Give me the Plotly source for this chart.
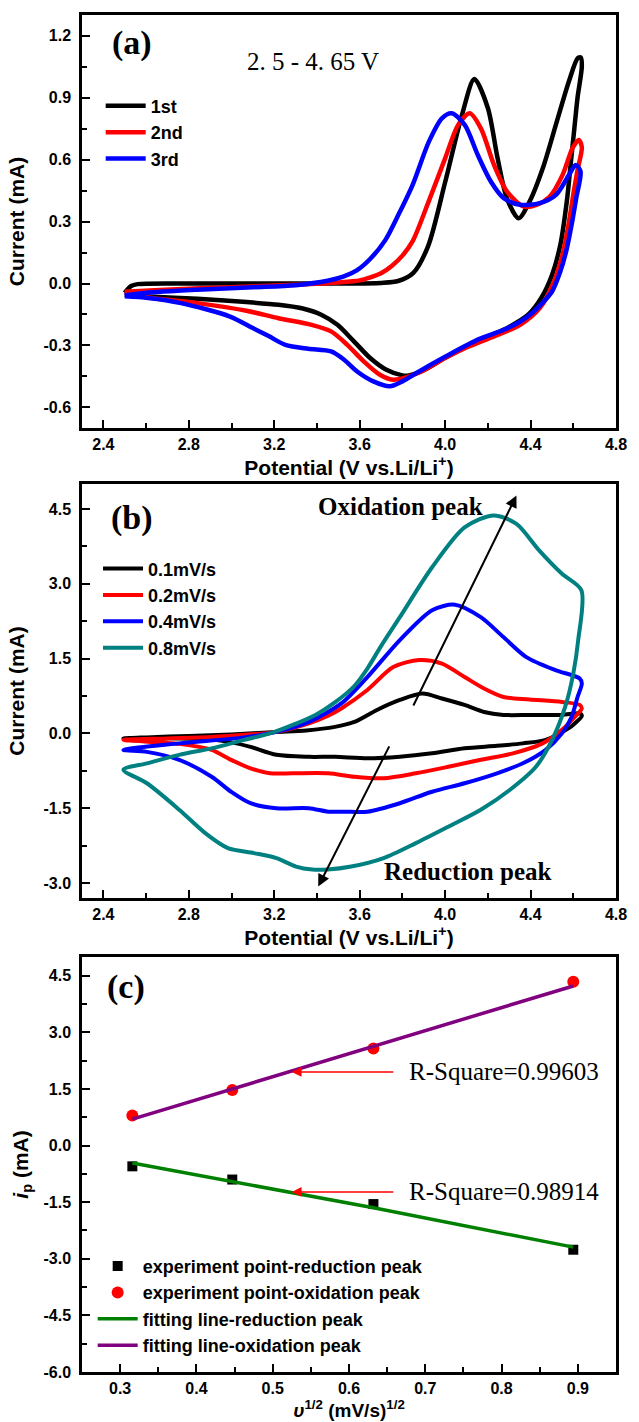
import plotly.graph_objects as go

# ---------------- Panel (a): first three CV cycles ----------------
a_names = ["1st", "2nd", "3rd"]
a_colors = ["#000000", "#ff0000", "#0000ff"]

a_x_1st = [2.50, 2.53, 2.56, 2.8, 3.2, 3.5, 3.7, 3.78, 3.85, 3.92, 4.0, 4.08, 4.137, 4.2, 4.245, 4.29, 4.344,
           4.397, 4.458, 4.519, 4.58, 4.62, 4.635,
           4.64, 4.62, 4.605, 4.59, 4.57, 4.54, 4.50, 4.45, 4.39, 4.3, 4.153, 4.0, 3.9, 3.83, 3.80, 3.725,
           3.649, 3.573, 3.496, 3.42, 3.329, 3.22, 3.07, 2.84, 2.61, 2.50]
a_y_1st = [-0.045, -0.012, -0.003, 0.0, 0.0, 0.0, 0.003, 0.012, 0.05, 0.18, 0.49, 0.82, 0.99, 0.85, 0.61, 0.41, 0.316,
           0.40, 0.56, 0.77, 0.98, 1.09, 1.095,
           1.05, 0.90, 0.75, 0.60, 0.40, 0.19, 0.04, -0.07, -0.15, -0.21, -0.28, -0.36, -0.42, -0.445, -0.445, -0.418,
           -0.361, -0.28, -0.2, -0.151, -0.12, -0.103, -0.09, -0.074, -0.063, -0.055]

a_x_2nd = [2.50, 2.69, 3.0, 3.3, 3.5, 3.6, 3.65, 3.7, 3.75, 3.8, 3.848, 3.924, 4.0, 4.061, 4.115, 4.168, 4.229, 4.29,
           4.367, 4.428, 4.489, 4.55, 4.596, 4.626,
           4.64, 4.62, 4.603, 4.58, 4.55, 4.504, 4.443, 4.351, 4.229, 4.1, 4.0, 3.9, 3.832, 3.756, 3.695, 3.619,
           3.542, 3.466, 3.375, 3.22, 3.07, 2.84, 2.61, 2.50]
a_y_2nd = [-0.04, -0.03, -0.018, -0.006, 0.005, 0.015, 0.03, 0.05, 0.085, 0.135, 0.205, 0.40, 0.606, 0.768, 0.824,
           0.75, 0.574, 0.445, 0.373, 0.381, 0.42, 0.526, 0.655, 0.695,
           0.66, 0.55, 0.45, 0.30, 0.14, -0.006, -0.119, -0.2, -0.256, -0.31, -0.361, -0.42, -0.45, -0.466, -0.442,
           -0.377, -0.297, -0.232, -0.2, -0.168, -0.132, -0.095, -0.068, -0.045]

a_x_3rd = [2.50, 2.6, 2.84, 3.1, 3.3, 3.45, 3.526, 3.588, 3.65, 3.72, 3.78, 3.848, 3.924, 3.985, 4.031, 4.092,
           4.153, 4.214, 4.275, 4.351, 4.443, 4.519, 4.58, 4.611, 4.634,
           4.615, 4.595, 4.57, 4.54, 4.5, 4.45, 4.41, 4.35, 4.275, 4.153, 4.0, 3.878, 3.8, 3.741, 3.664, 3.588,
           3.527, 3.466, 3.359, 3.252, 3.176, 3.1, 2.993, 2.764, 2.61, 2.50]
a_y_3rd = [-0.058, -0.045, -0.03, -0.018, -0.008, 0.013, 0.034, 0.065, 0.12, 0.21, 0.33, 0.478, 0.687, 0.80, 0.824,
           0.768, 0.622, 0.494, 0.413, 0.381, 0.389, 0.429, 0.526, 0.574, 0.542,
           0.42, 0.30, 0.17, 0.06, -0.04, -0.1, -0.14, -0.185, -0.224, -0.272, -0.355, -0.426, -0.474, -0.498,
           -0.474, -0.426, -0.369, -0.329, -0.316, -0.297, -0.256, -0.216, -0.16, -0.095, -0.07, -0.062]

# ---------------- Panel (b): CV at different scan rates ----------------
b_names = ["0.1mV/s", "0.2mV/s", "0.4mV/s", "0.8mV/s"]
b_colors = ["#000000", "#ff0000", "#0000ff", "#008080"]

b_x_01 = [2.494, 2.6, 2.8, 3.0, 3.21, 3.35, 3.484, 3.575, 3.681, 3.788, 3.894, 3.985, 4.091, 4.182, 4.273, 4.395,
          4.547, 4.63,
          4.64, 4.607, 4.577, 4.471, 4.364, 4.243, 4.091, 3.939, 3.788, 3.636, 3.484, 3.362, 3.21, 3.089, 3.0, 2.9,
          2.755, 2.494]
b_y_01 = [-0.10, -0.08, -0.05, -0.02, 0.03, 0.06, 0.13, 0.23, 0.47, 0.67, 0.80, 0.70, 0.57, 0.43, 0.37, 0.37,
          0.37, 0.40,
          0.35, 0.2, 0.1, -0.13, -0.2, -0.25, -0.30, -0.40, -0.47, -0.50, -0.47, -0.47, -0.43, -0.27, -0.18, -0.12,
          -0.10, -0.10]

b_x_02 = [2.494, 2.7, 2.907, 3.21, 3.362, 3.45, 3.514, 3.636, 3.757, 3.878, 3.985, 4.091, 4.182, 4.273, 4.395,
          4.547, 4.63,
          4.64, 4.607, 4.547, 4.456, 4.318, 4.167, 4.015, 3.863, 3.712, 3.575, 3.453, 3.287, 3.18, 3.089, 2.998,
          2.907, 2.755, 2.494]
b_y_02 = [-0.13, -0.10, -0.07, 0.03, 0.2, 0.35, 0.5, 0.87, 1.33, 1.47, 1.40, 1.13, 0.90, 0.73, 0.68, 0.63, 0.57,
          0.50, 0.33, 0.07, -0.2, -0.4, -0.53, -0.67, -0.8, -0.9, -0.87, -0.80, -0.80, -0.80, -0.70, -0.53, -0.33,
          -0.21, -0.13]

b_x_04 = [2.494, 2.755, 3.059, 3.21, 3.362, 3.514, 3.636, 3.788, 3.939, 4.046, 4.167, 4.273, 4.38, 4.516, 4.63,
          4.64, 4.62, 4.592, 4.547, 4.471, 4.364, 4.243, 4.091, 3.939, 3.788, 3.636, 3.53, 3.453, 3.362, 3.21,
          3.089, 2.998, 2.907, 2.755, 2.604, 2.494]
b_y_04 = [-0.33, -0.2, -0.08, 0.03, 0.23, 0.6, 1.13, 1.87, 2.47, 2.58, 2.33, 1.93, 1.53, 1.27, 1.1,
          1.0, 0.73, 0.33, 0.0, -0.33, -0.6, -0.8, -1.0, -1.17, -1.4, -1.57, -1.57, -1.57, -1.5, -1.5,
          -1.4, -1.17, -0.87, -0.53, -0.37, -0.33]

b_x_08 = [2.494, 2.604, 2.755, 2.907, 3.059, 3.18, 3.287, 3.393, 3.484, 3.575, 3.636, 3.7, 3.788, 3.939, 4.091,
          4.228, 4.334, 4.44, 4.547, 4.638,
          4.623, 4.6, 4.562, 4.501, 4.425, 4.304, 4.167, 4.015, 3.863, 3.712, 3.56, 3.45, 3.378, 3.302, 3.21, 3.105,
          2.983, 2.877, 2.755, 2.604, 2.494]
b_y_08 = [-0.73, -0.6, -0.43, -0.3, -0.13, 0.0, 0.17, 0.37, 0.62, 0.95, 1.30, 1.75, 2.33, 3.33, 4.13,
          4.37, 4.2, 3.67, 3.2, 2.87,
          1.87, 1.2, 0.53, -0.13, -0.67, -1.13, -1.53, -1.87, -2.2, -2.5, -2.67, -2.73, -2.73, -2.67, -2.5, -2.4,
          -2.3, -2.0, -1.53, -1.0, -0.73]

# ---------------- Panel (c): peak current vs sqrt(scan rate) ----------------
c_sqrt_v = [0.316, 0.447, 0.632, 0.894]
c_red_peak = [-0.55, -0.90, -1.55, -2.76]
c_ox_peak = [0.80, 1.47, 2.57, 4.34]
c_fit_red = [-0.46, -0.95, -1.65, -2.69]
c_fit_ox = [0.70, 1.50, 2.63, 4.23]
c_names = ["experiment point-reduction peak", "experiment point-oxidation peak",
           "fitting line-reduction peak", "fitting line-oxidation peak"]
c_r2_text = ["R-Square=0.99603", "R-Square=0.98914"]
c_r2_y = [1.95, -1.23]

# tick labels
ab_x_ticks = [2.4, 2.8, 3.2, 3.6, 4.0, 4.4, 4.8]
ab_x_ticktext = ["2.4", "2.8", "3.2", "3.6", "4.0", "4.4", "4.8"]
a_y_ticks = [1.2, 0.9, 0.6, 0.3, 0.0, -0.3, -0.6]
a_y_ticktext = ["1.2", "0.9", "0.6", "0.3", "0.0", "-0.3", "-0.6"]
b_y_ticks = [4.5, 3.0, 1.5, 0.0, -1.5, -3.0]
b_y_ticktext = ["4.5", "3.0", "1.5", "0.0", "-1.5", "-3.0"]
c_y_ticks = [4.5, 3.0, 1.5, 0.0, -1.5, -3.0, -4.5, -6.0]
c_y_ticktext = ["4.5", "3.0", "1.5", "0.0", "-1.5", "-3.0", "-4.5", "-6.0"]
c_x_ticks = [0.3, 0.4, 0.5, 0.6, 0.7, 0.8, 0.9]
c_x_ticktext = ["0.3", "0.4", "0.5", "0.6", "0.7", "0.8", "0.9"]

SANS = "Liberation Sans, Arial, sans-serif"
SERIF = "Liberation Serif, Times New Roman, serif"

fig = go.Figure()

for xs, ys, nm, col in zip([a_x_1st, a_x_2nd, a_x_3rd], [a_y_1st, a_y_2nd, a_y_3rd], a_names, a_colors):
    fig.add_trace(go.Scatter(x=xs, y=ys, name=nm, mode="lines",
                             line=dict(color=col, width=4.5, shape="spline", smoothing=0.8),
                             xaxis="x", yaxis="y", legend="legend"))

for xs, ys, nm, col in zip([b_x_01, b_x_02, b_x_04, b_x_08], [b_y_01, b_y_02, b_y_04, b_y_08], b_names, b_colors):
    fig.add_trace(go.Scatter(x=xs, y=ys, name=nm, mode="lines",
                             line=dict(color=col, width=4, shape="spline", smoothing=0.8),
                             xaxis="x2", yaxis="y2", legend="legend2"))

fig.add_trace(go.Scatter(x=c_sqrt_v, y=c_red_peak, name=c_names[0], mode="markers",
                         marker=dict(symbol="square", color="black", size=10),
                         xaxis="x3", yaxis="y3", legend="legend3"))
fig.add_trace(go.Scatter(x=c_sqrt_v, y=c_ox_peak, name=c_names[1], mode="markers",
                         marker=dict(symbol="circle", color="#ff0000", size=12),
                         xaxis="x3", yaxis="y3", legend="legend3"))
fig.add_trace(go.Scatter(x=c_sqrt_v, y=c_fit_red, name=c_names[2], mode="lines",
                         line=dict(color="#008000", width=3.5),
                         xaxis="x3", yaxis="y3", legend="legend3"))
fig.add_trace(go.Scatter(x=c_sqrt_v, y=c_fit_ox, name=c_names[3], mode="lines",
                         line=dict(color="#800080", width=3.5),
                         xaxis="x3", yaxis="y3", legend="legend3"))

tickfont = dict(family=SANS, size=16, color="black", weight="bold")
titlefont = dict(family=SANS, size=21, color="black", weight="bold")
titlefont_c = dict(family=SANS, size=19, color="black", weight="bold")


def axis_common():
    return dict(showline=True, linewidth=2.5, linecolor="black", mirror=True,
                ticks="inside", ticklen=8, tickwidth=2, tickcolor="black",
                showgrid=False, zeroline=False, tickfont=tickfont)


minor_x_ab = dict(ticks="inside", ticklen=5, tickwidth=2, tickcolor="black", dtick=0.2, tick0=2.4)

xa = axis_common()
xa.update(domain=[0, 1], range=[2.3, 4.8], tickmode="array", tickvals=ab_x_ticks, ticktext=ab_x_ticktext,
          minor=minor_x_ab,
          title=dict(text="Potential (V vs.Li/Li<sup>+</sup>)", font=titlefont, standoff=0), anchor="y")
ya = axis_common()
ya.update(domain=[0.6956, 1.0], range=[-0.7, 1.3], tickmode="array", tickvals=a_y_ticks, ticktext=a_y_ticktext,
          minor=dict(ticks="inside", ticklen=5, tickwidth=2, tickcolor="black", dtick=0.15, tick0=0),
          ticklabelstandoff=5,
          title=dict(text="Current (mA)", font=titlefont, standoff=14), anchor="x")

xb = axis_common()
xb.update(domain=[0, 1], range=[2.3, 4.8], tickmode="array", tickvals=ab_x_ticks, ticktext=ab_x_ticktext,
          minor=minor_x_ab,
          title=dict(text="Potential (V vs.Li/Li<sup>+</sup>)", font=titlefont, standoff=0), anchor="y2")
yb = axis_common()
yb.update(domain=[0.3493, 0.6544], range=[-3.3, 5.0], tickmode="array", tickvals=b_y_ticks, ticktext=b_y_ticktext,
          minor=dict(ticks="inside", ticklen=5, tickwidth=2, tickcolor="black", dtick=0.75, tick0=0),
          ticklabelstandoff=5,
          title=dict(text="Current (mA)", font=titlefont, standoff=14), anchor="x2")

xc = axis_common()
xc.update(domain=[0, 1], range=[0.25, 0.95], tickmode="array", tickvals=c_x_ticks, ticktext=c_x_ticktext,
          minor=dict(ticks="inside", ticklen=5, tickwidth=2, tickcolor="black", dtick=0.05, tick0=0.3),
          title=dict(text="<i>υ</i><sup>1/2</sup> (mV/s)<sup>1/2</sup>", font=titlefont_c, standoff=0),
          anchor="y3")
yc = axis_common()
yc.update(domain=[0.0, 0.3059], range=[-6.0, 5.0], tickmode="array", tickvals=c_y_ticks, ticktext=c_y_ticktext,
          minor=dict(ticks="inside", ticklen=5, tickwidth=2, tickcolor="black", dtick=0.75, tick0=0),
          ticklabelstandoff=5,
          title=dict(text="<i>i</i><sub>p</sub> (mA)", font=titlefont, standoff=10), anchor="x3")

legfont = dict(family=SANS, size=18, color="black", weight="bold")

fig.update_layout(
    width=639, height=1422,
    margin=dict(l=82, r=13, t=13, b=49),
    paper_bgcolor="white", plot_bgcolor="white",
    xaxis=xa, yaxis=ya, xaxis2=xb, yaxis2=yb, xaxis3=xc, yaxis3=yc,
    legend=dict(x=0.035, y=0.9465, xanchor="left", yanchor="top", font=legfont,
                bgcolor="rgba(0,0,0,0)", tracegroupgap=0, itemwidth=40),
    legend2=dict(x=0.03, y=0.6055, xanchor="left", yanchor="top", font=legfont,
                 bgcolor="rgba(0,0,0,0)", tracegroupgap=0, itemwidth=40),
    legend3=dict(x=0.02, y=0.0915, xanchor="left", yanchor="top", font=legfont,
                 bgcolor="rgba(0,0,0,0)", tracegroupgap=0, itemwidth=40),
    showlegend=True,
)

panel_font = dict(family=SERIF, size=34, color="black", weight="bold")
fig.add_annotation(text="(a)", x=0.093, y=0.933, xref="x domain", yref="y domain", showarrow=False,
                   xanchor="center", yanchor="middle", font=panel_font)
fig.add_annotation(text="(b)", x=0.093, y=0.918, xref="x2 domain", yref="y2 domain", showarrow=False,
                   xanchor="center", yanchor="middle", font=panel_font)
fig.add_annotation(text="(c)", x=0.082, y=0.928, xref="x3 domain", yref="y3 domain", showarrow=False,
                   xanchor="center", yanchor="middle", font=panel_font)

fig.add_annotation(text="2. 5 - 4. 65 V", x=3.381, y=1.075, xref="x", yref="y", showarrow=False,
                   xanchor="center", yanchor="middle",
                   font=dict(family=SERIF, size=25, color="black"))

peak_font = dict(family=SERIF, size=25, color="black", weight="bold")
fig.add_annotation(text="Oxidation peak", x=3.793, y=4.55, xref="x2", yref="y2", showarrow=False,
                   xanchor="center", yanchor="middle", font=peak_font)
fig.add_annotation(text="Reduction peak", x=4.103, y=-2.77, xref="x2", yref="y2", showarrow=False,
                   xanchor="center", yanchor="middle", font=peak_font)

# scan-rate trend arrows (tail -> head)
b_arrow_tail = [(3.848, 0.53), (3.742, -0.23)]
b_arrow_head = [(4.334, 4.77), (3.406, -3.07)]
for (tx, ty), (hx, hy) in zip(b_arrow_tail, b_arrow_head):
    fig.add_annotation(x=hx, y=hy, ax=tx, ay=ty, xref="x2", yref="y2", axref="x2", ayref="y2",
                       text="", showarrow=True, arrowhead=2, arrowsize=1.2, arrowwidth=2, arrowcolor="black")

# R-square labels with red arrows
c_arrow_tail_x = 0.660
c_arrow_head_x = 0.525
for txt, yy in zip(c_r2_text, c_r2_y):
    fig.add_annotation(x=c_arrow_head_x, y=yy, ax=c_arrow_tail_x, ay=yy, xref="x3", yref="y3",
                       axref="x3", ayref="y3", text="", showarrow=True, arrowhead=2, arrowsize=1.3,
                       arrowwidth=1.5, arrowcolor="#ff0000")
    fig.add_annotation(text=txt, x=0.676, y=yy, xref="x3", yref="y3", xanchor="left", yanchor="middle",
                       showarrow=False, font=dict(family=SERIF, size=25, color="black"))

fig.write_html("out.html", config={"displayModeBar": False},
               post_script="document.body.style.margin='0';document.body.style.overflow='hidden';")
